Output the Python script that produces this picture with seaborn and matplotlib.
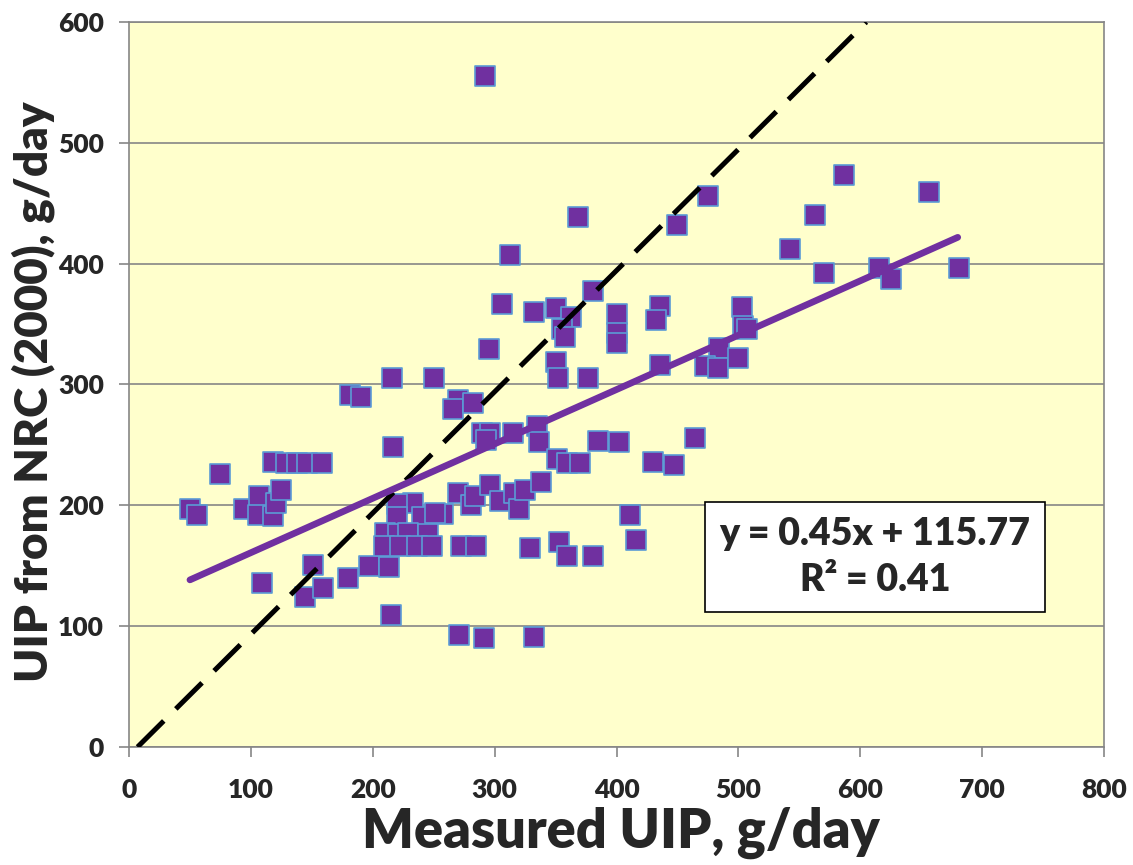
import matplotlib
matplotlib.use("Agg")
import matplotlib.pyplot as plt
import seaborn as sns
import pandas as pd

# ---- data ----
measured_uip = [292, 50, 56, 75, 94, 107, 106, 118, 121, 125, 118, 129, 138, 146, 158,
                217, 109, 151, 144, 159, 180, 197, 213, 215, 216, 181, 190, 250,
                368, 313, 450, 475, 306, 332, 350, 363, 381, 355, 358, 400, 400, 400,
                436, 432, 295, 350, 352, 377, 270, 266, 282, 290, 296, 315, 335, 336,
                293, 385, 402, 464, 351, 359, 370, 430, 447, 587, 656, 563, 542, 570,
                615, 625, 681, 503, 504, 507, 484, 473, 483, 500, 436, 233, 270, 281,
                284, 296, 304, 316, 320, 325, 338, 258, 272, 285, 329, 353, 359, 381,
                271, 291, 332, 411, 416, 220, 220, 240, 210, 221, 229, 245, 209, 222,
                236, 249, 251]
nrc_uip = [555, 197, 192, 226, 197, 208, 192, 191, 202, 213, 236, 235, 235, 235, 235,
           248, 136, 151, 124, 132, 140, 150, 149, 109, 305, 291, 290, 305,
           439, 407, 432, 456, 367, 360, 363, 356, 377, 346, 339, 358, 343, 334,
           365, 353, 329, 319, 305, 305, 287, 280, 285, 260, 260, 260, 266, 252,
           254, 253, 252, 256, 238, 235, 235, 236, 233, 473, 459, 440, 412, 392,
           396, 387, 396, 364, 348, 346, 330, 315, 314, 322, 316, 202, 210, 200,
           208, 217, 204, 210, 197, 213, 219, 193, 166, 166, 165, 170, 158, 158,
           93, 90, 91, 192, 171, 201, 190, 190, 177, 176, 177, 176, 166, 166,
           166, 166, 194]

trend_x = [50, 680]
trend_y = [138.3, 421.8]
ref_x = [7, 605]
ref_y = [0, 600]

x_ticks = [0, 100, 200, 300, 400, 500, 600, 700, 800]
y_ticks = [0, 100, 200, 300, 400, 500, 600]
equation_text = "y = 0.45x + 115.77\nR\u00b2 = 0.41"
x_title = "Measured UIP, g/day"
y_title = "UIP from NRC (2000), g/day"

points = pd.DataFrame({"measured": measured_uip, "nrc": nrc_uip})
trend = pd.DataFrame({"x": trend_x, "y": trend_y})
ref = pd.DataFrame({"x": ref_x, "y": ref_y})

sns.set_theme(style="white")
plt.rcParams["font.family"] = ["Lato", "DejaVu Sans"]
W = "heavy"

fig = plt.figure(figsize=(11.33, 8.65), dpi=100)
ax = fig.add_axes([129 / 1133, 1 - 747 / 865, 975 / 1133, 725 / 865])
ax.set_facecolor("#FFFFCC")

sns.scatterplot(data=points, x="measured", y="nrc", marker="s", s=215,
                color="#7030A0", edgecolor="#5B9BD5", linewidth=1.2, ax=ax, zorder=3)
sns.lineplot(data=ref, x="x", y="y", color="black", linewidth=3.6,
             dashes=False, ax=ax, zorder=4).lines[-1].set_dashes((7.4, 3.4))
sns.lineplot(data=trend, x="x", y="y", color="#7030A0", linewidth=4.8,
             ax=ax, zorder=4, solid_capstyle="round")

ax.set_xlim(0, 800)
ax.set_ylim(0, 600)
ax.set_xticks(x_ticks)
ax.set_yticks(y_ticks)
ax.set_xticklabels([str(t) for t in x_ticks], fontsize=19, fontweight=W)
ax.set_yticklabels([str(t) for t in y_ticks], fontsize=19, fontweight=W)
ax.tick_params(axis="both", direction="out", length=7, width=1.2, color="#868686",
               bottom=True, left=True)
ax.tick_params(axis="x", pad=15)
ax.tick_params(axis="y", pad=11)
ax.yaxis.grid(True, color="#868686", linewidth=1.2)
ax.xaxis.grid(False)
ax.set_axisbelow(True)
for side in ["left", "bottom", "right", "top"]:
    ax.spines[side].set_color("#868686")
    ax.spines[side].set_linewidth(1.2)

ax.set_xlabel(x_title, fontsize=39, fontweight=W)
ax.set_ylabel(y_title, fontsize=33, fontweight=W)
ax.xaxis.set_label_coords(0.504, -0.082)
ax.yaxis.set_label_coords(-0.076, 0.49)
ax.xaxis.label.set_va("top")

ax.text(0.765, 0.262, equation_text, transform=ax.transAxes, ha="center", va="center",
        fontsize=27, fontweight=W, linespacing=1.45, zorder=6,
        bbox=dict(boxstyle="square,pad=0.38", facecolor="white", edgecolor="black",
                  linewidth=1.2))

fig.savefig("out.png", dpi=100)
